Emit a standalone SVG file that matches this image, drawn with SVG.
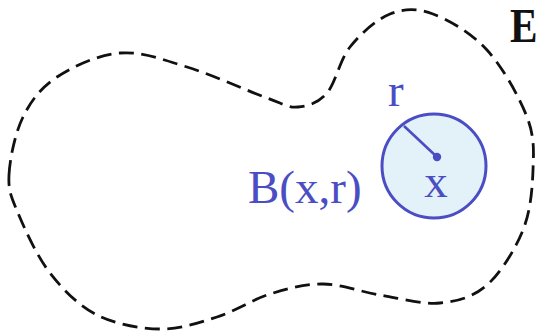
<svg xmlns="http://www.w3.org/2000/svg" width="540" height="332" viewBox="0 0 540 332">
<style>
.outline{fill:none;stroke:#111;stroke-width:2.8;stroke-dasharray:15 7.5;}
.ball{fill:#e3f1f8;stroke:#4a4dc3;stroke-width:3;}
.rad{stroke:#4a4dc3;stroke-width:2.6;}
.lbl{font-family:"Liberation Serif","Times New Roman",serif;fill:#4a4dc3;font-size:47px;}
.set{font-family:"Liberation Serif","Times New Roman",serif;fill:#111;font-size:48px;font-weight:bold;}
</style>
<rect width="540" height="332" fill="#fff"/>
<g id="set-E">
<path class="outline" d="M 9,175 C 9.8,159 15,133.3 23,117 C 31,100.7 40.8,87.7 57,77 C 73.2,66.3 98.3,54.7 120,53 C 141.7,51.3 162.5,59.5 187,67 C 211.5,74.5 248.5,91.3 267,98 C 285.5,104.7 288,107.8 298,107 C 308,106.2 318.3,103 327,93 C 335.7,83 339.5,60.2 350,47 C 360.5,33.8 376.2,19.5 390,14 C 403.8,8.5 416.8,8 433,14 C 449.2,20 471.3,32.8 487,50 C 502.7,67.2 519.3,97 527,117 C 534.7,137 533.7,151.2 533,170 C 532.3,188.8 530.7,210.8 523,230 C 515.3,249.2 500.8,272.8 487,285 C 473.2,297.2 457.8,301.3 440,303 C 422.2,304.7 399.5,298.2 380,295 C 360.5,291.8 341.3,284.2 323,284 C 304.7,283.8 287.7,288.5 270,294 C 252.3,299.5 235.3,311.2 217,317 C 198.7,322.8 180,329.3 160,329 C 140,328.7 115.3,324.3 97,315 C 78.7,305.7 63.2,290 50,273 C 36.8,256 24.8,229.3 18,213 C 11.2,196.7 8.2,191 9,175 Z"/>
<text class="set" transform="translate(510,42) scale(0.86,1)">E</text>
</g>
<g id="ball">
<circle class="ball" cx="434" cy="166" r="52"/>
<line class="rad" x1="404" y1="126" x2="437" y2="157"/>
<circle cx="437" cy="157" r="4.2" fill="#4a4dc3"/>
<text class="lbl" x="436" y="197" text-anchor="middle">x</text>
<text class="lbl" x="388" y="106">r</text>
<text class="lbl" x="248" y="203">B(x,r)</text>
</g>
</svg>
